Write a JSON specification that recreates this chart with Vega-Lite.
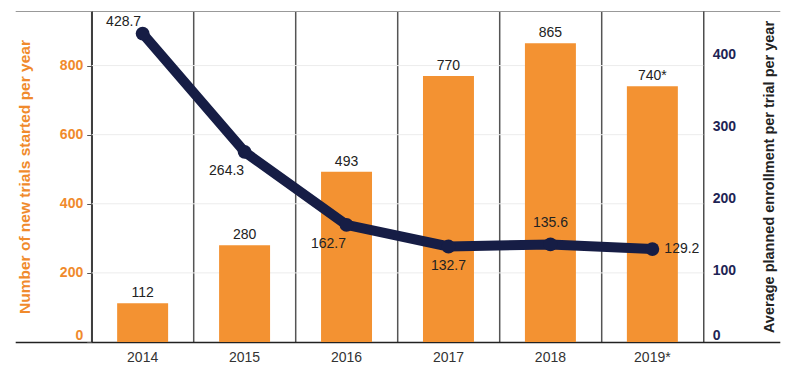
{
  "$schema": "https://vega.github.io/schema/vega-lite/v6.json",
  "width": 764.6,
  "height": 331,
  "autosize": {"type": "none"},
  "padding": {"left": 15.2, "top": 11, "right": 24.2, "bottom": 26},
  "config": {
    "view": {"stroke": null},
    "font": "Liberation Sans",
    "axis": {"labelFont": "Liberation Sans", "titleFont": "Liberation Sans"},
    "text": {"font": "Liberation Sans"}
  },
  "data": {
    "values": [
      {"year": "2014", "trials": 112, "enroll": 428.7, "barLabel": "112"},
      {"year": "2015", "trials": 280, "enroll": 264.3, "barLabel": "280"},
      {"year": "2016", "trials": 493, "enroll": 162.7, "barLabel": "493"},
      {"year": "2017", "trials": 770, "enroll": 132.7, "barLabel": "770"},
      {"year": "2018", "trials": 865, "enroll": 135.6, "barLabel": "865"},
      {"year": "2019*", "trials": 740, "enroll": 129.2, "barLabel": "740*"}
    ]
  },
  "resolve": {"scale": {"y": "independent"}},
  "layer": [
    {
      "encoding": {
        "x": {
          "field": "year", "type": "nominal", "sort": null,
          "scale": {"domain": ["2014", "2015", "2016", "2017", "2018", "2019*"], "paddingInner": 0.5, "paddingOuter": 1},
          "axis": {
            "orient": "bottom", "title": null, "labelAngle": 0, "ticks": false, "grid": false,
            "domainColor": "#222", "domainWidth": 1.5, "labelFontSize": 14, "labelColor": "#333", "labelPadding": 8
          }
        },
        "y": {
          "field": "trials", "type": "quantitative",
          "scale": {"domain": [0, 958], "nice": false},
          "axis": {
            "orient": "left", "offset": -76.5,
            "title": "Number of new trials started per year",
            "titleColor": "#F08A2C", "titleFontSize": 15.5, "titleFontWeight": "bold", "titlePadding": 27,
            "labelColor": "#F08A2C", "labelFontWeight": "bold", "labelFontSize": 14, "labelFlush": true,
            "values": [0, 200, 400, 600, 800], "grid": false,
            "domainColor": "#222", "domainWidth": 1.2, "tickColor": "#555", "tickSize": 5, "labelPadding": 4
          }
        }
      },
      "layer": [
        {
          "data": {"values": [{"g": 200}, {"g": 400}, {"g": 600}, {"g": 800}]},
          "mark": {"type": "rule", "color": "#ececec", "strokeWidth": 1},
          "encoding": {
            "y": {"field": "g", "type": "quantitative"},
            "x": {"datum": "2014", "type": "nominal", "bandPosition": -0.5},
            "x2": {"datum": "2019*", "bandPosition": 1.5}
          }
        },
        {
          "mark": {"type": "bar", "color": "#F39232"}
        },
        {
          "mark": {"type": "text", "baseline": "alphabetic", "dy": -6, "fontSize": 14, "color": "#222"},
          "encoding": {"text": {"field": "barLabel"}}
        }
      ]
    },
    {
      "encoding": {
        "x": {
          "field": "year", "type": "nominal", "sort": null,
          "scale": {"domain": ["2014", "2015", "2016", "2017", "2018", "2019*"], "paddingInner": 0.5, "paddingOuter": 1},
          "axis": {
            "orient": "top", "title": null, "labels": false, "ticks": false,
            "domainColor": "#999", "domainWidth": 1,
            "grid": true, "gridColor": "#555", "gridWidth": 1.5, "bandPosition": -0.5
          }
        },
        "y": {
          "field": "enroll", "type": "quantitative",
          "scale": {"domain": [0, 460], "nice": false},
          "axis": {
            "orient": "right", "offset": -76.5,
            "title": "Average planned enrollment per trial per year",
            "titleColor": "#222", "titleFontSize": 14.5, "titleFontWeight": "bold", "titlePadding": 41, "titleAngle": 270,
            "labelColor": "#1e2454", "labelFontWeight": "bold", "labelFontSize": 14, "labelFlush": true,
            "values": [0, 100, 200, 300, 400], "ticks": false, "grid": false,
            "domainColor": "#222", "domainWidth": 1.2, "labelPadding": 9
          }
        }
      },
      "layer": [
        {"mark": {"type": "line", "color": "#161d45", "strokeWidth": 10, "strokeCap": "round", "strokeJoin": "round"}},
        {"mark": {"type": "point", "filled": true, "opacity": 1, "color": "#161d45", "size": 190}},
        {
          "transform": [{"filter": "datum.year === '2014'"}],
          "mark": {"type": "text", "fontSize": 14, "color": "#222", "baseline": "middle", "align": "center", "dx": -19, "dy": -12},
          "encoding": {"text": {"field": "enroll", "format": ".1f"}}
        },
        {
          "transform": [{"filter": "datum.year === '2015' || datum.year === '2016'"}],
          "mark": {"type": "text", "fontSize": 14, "color": "#222", "baseline": "middle", "align": "center", "dx": -18, "dy": 19},
          "encoding": {"text": {"field": "enroll", "format": ".1f"}}
        },
        {
          "transform": [{"filter": "datum.year === '2017'"}],
          "mark": {"type": "text", "fontSize": 14, "color": "#222", "baseline": "middle", "align": "center", "dx": 0, "dy": 19},
          "encoding": {"text": {"field": "enroll", "format": ".1f"}}
        },
        {
          "transform": [{"filter": "datum.year === '2018'"}],
          "mark": {"type": "text", "fontSize": 14, "color": "#222", "baseline": "middle", "align": "center", "dx": 0, "dy": -21},
          "encoding": {"text": {"field": "enroll", "format": ".1f"}}
        },
        {
          "transform": [{"filter": "datum.year === '2019*'"}],
          "mark": {"type": "text", "fontSize": 14, "color": "#222", "baseline": "middle", "align": "left", "dx": 12, "dy": 0},
          "encoding": {"text": {"field": "enroll", "format": ".1f"}}
        }
      ]
    }
  ]
}
